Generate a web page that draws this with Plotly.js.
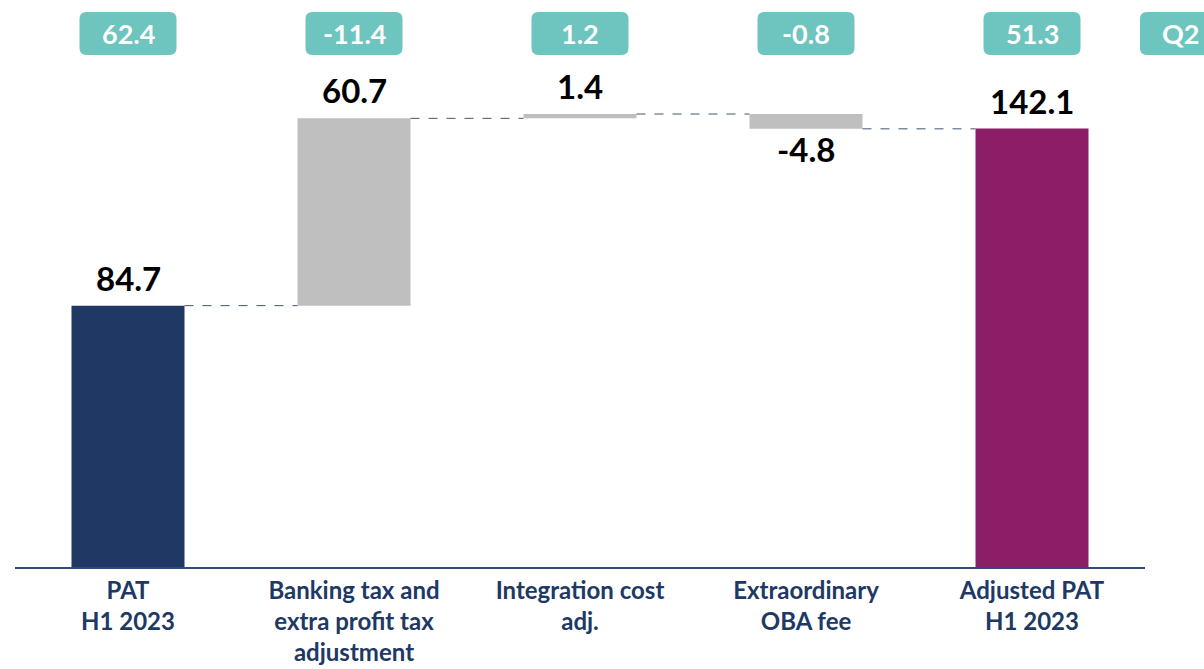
<!DOCTYPE html>
<html>
<head>
<meta charset="utf-8">
<script src="https://cdn.plot.ly/plotly-3.0.1.min.js"></script>
<style>html,body{margin:0;padding:0;background:#fff;}#chart{width:1204px;height:669px;}</style>
</head>
<body>
<div id="chart"></div>
<script>
// ---- data ----
const categories = ['PAT<br>H1 2023', 'Banking tax and<br>extra profit tax<br>adjustment', 'Integration cost<br>adj.', 'Extraordinary<br>OBA fee', 'Adjusted PAT<br>H1 2023'];
const values = [84.7, 60.7, 1.4, -4.8, 142.1];
const measures = ['absolute', 'relative', 'relative', 'relative', 'total'];
const valueLabels = ['84.7', '60.7', '1.4', '-4.8', '142.1'];
const q2Values = ['62.4', '-11.4', '1.2', '-0.8', '51.3'];
const q2Header = 'Q2';

// ---- styles ----
const barColors = ['#203864', '#BFBFBF', '#BFBFBF', '#BFBFBF', '#8B1E66'];
const navy = '#203864';
const teal = '#6EC4BE';
const FONT = 'Lato, "Open Sans", sans-serif';

// compute waterfall bases / heights
let running = 0;
const bases = [], heights = [], levels = [];
values.forEach((v, i) => {
  const m = measures[i];
  if (m === 'absolute') { bases.push(0); heights.push(v); running = v; }
  else if (m === 'relative') { bases.push(running); heights.push(v); running += v; }
  else { bases.push(0); heights.push(v); running = v; }
  levels.push(running);
});
const xs = categories.map((c, i) => i);
const barWidth = 0.5;

const traces = [{
  type: 'bar', x: xs, y: heights, base: bases, width: barWidth,
  marker: {color: barColors, line: {width: 0}}, hoverinfo: 'skip', showlegend: false
}];

// connectors
for (let i = 0; i < values.length - 1; i++) {
  traces.push({
    type: 'scatter', mode: 'lines',
    x: [xs[i] + barWidth / 2, xs[i + 1] - barWidth / 2],
    y: [levels[i], levels[i]],
    line: {color: '#44546A', width: 1, dash: 'dash'},
    hoverinfo: 'skip', showlegend: false
  });
}

const annotations = [];
const shapes = [];
// value labels
values.forEach((v, i) => {
  const top = bases[i] + Math.max(heights[i], 0);
  const bot = bases[i] + Math.min(heights[i], 0);
  if (v >= 0) {
    annotations.push({x: xs[i], y: top, xref: 'x', yref: 'y', text: valueLabels[i], showarrow: false,
      yanchor: 'bottom', yshift: 6, font: {family: FONT, size: 33, color: '#000', weight: 700}});
  } else {
    annotations.push({x: xs[i], y: bot, xref: 'x', yref: 'y', text: valueLabels[i], showarrow: false,
      yanchor: 'top', yshift: 2, font: {family: FONT, size: 33, color: '#000', weight: 700}});
  }
});

// badges
const plotW = 1130, plotH = 540;
function roundRect(x0, x1, y0, y1, rx, ry) {
  return `M ${x0 + rx},${y1} L ${x1 - rx},${y1} Q ${x1},${y1} ${x1},${y1 - ry} L ${x1},${y0 + ry} Q ${x1},${y0} ${x1 - rx},${y0} L ${x0 + rx},${y0} Q ${x0},${y0} ${x0},${y0 + ry} L ${x0},${y1 - ry} Q ${x0},${y1} ${x0 + rx},${y1} Z`;
}
const bHalfX = 48.5 / 226, rX = 7 / 226;
const bY0 = (567 - 55) / plotH, bY1 = (567 - 12) / plotH, rY = 7 / plotH;
const bYc = (bY0 + bY1) / 2;
q2Values.forEach((t, i) => {
  shapes.push({type: 'path', xref: 'x', yref: 'paper', path: roundRect(xs[i] - bHalfX, xs[i] + bHalfX, bY0, bY1, rX, rY),
    fillcolor: teal, line: {width: 0}, layer: 'above'});
  annotations.push({x: xs[i], y: bYc, xref: 'x', yref: 'paper', text: t, showarrow: false,
    xanchor: 'center', yanchor: 'middle', font: {family: FONT, size: 27, color: '#fff', weight: 700}});
});
// Q2 header badge at the right edge
{
  const px0 = (1140 - 15) / plotW, px1 = (1240 - 15) / plotW, prx = 7 / plotW;
  shapes.push({type: 'path', xref: 'paper', yref: 'paper', path: roundRect(px0, px1, bY0, bY1, prx, rY),
    fillcolor: teal, line: {width: 0}, layer: 'above'});
  annotations.push({x: (1160 - 15) / plotW, y: bYc, xref: 'paper', yref: 'paper', text: q2Header, showarrow: false,
    xanchor: 'left', yanchor: 'middle', font: {family: FONT, size: 27, color: '#fff', weight: 700}});
}

const layout = {
  width: 1204, height: 669,
  margin: {l: 15, r: 59, t: 27, b: 102},
  paper_bgcolor: '#fff', plot_bgcolor: '#fff',
  bargap: 0.5,
  xaxis: {range: [-0.5, 4.5], tickvals: xs, ticktext: categories, showgrid: false, zeroline: false,
    showline: true, linecolor: '#2F4B7C', linewidth: 2, ticks: '', ticklabelstandoff: 1,
    tickfont: {family: FONT, size: 24, color: navy, weight: 700}, fixedrange: true},
  yaxis: {range: [0, 175], visible: false, showgrid: false, zeroline: false, fixedrange: true},
  annotations, shapes, showlegend: false
};
Plotly.newPlot('chart', traces, layout, {displayModeBar: false, staticPlot: true});
</script>
</body>
</html>
